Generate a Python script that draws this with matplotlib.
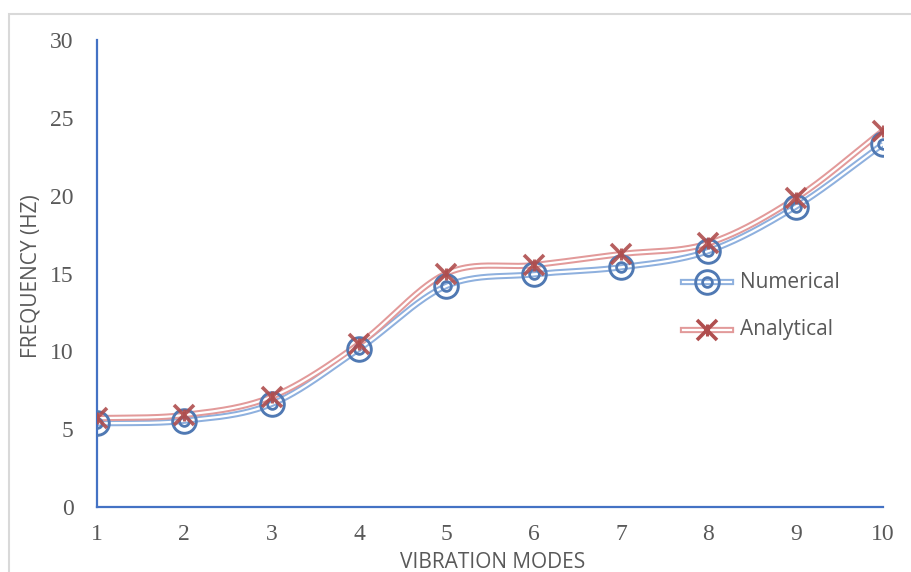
import numpy as np
import matplotlib
matplotlib.use("Agg")
import matplotlib.pyplot as plt
from matplotlib.lines import Line2D
from matplotlib.patches import Rectangle

modes = [1, 2, 3, 4, 5, 6, 7, 8, 9, 10]
numerical = [5.37, 5.54, 6.62, 10.15, 14.2, 14.95, 15.4, 16.44, 19.29, 23.31]
analytical = [5.70, 5.91, 7.08, 10.47, 15.0, 15.54, 16.25, 16.94, 19.83, 24.17]
yticks = [0, 5, 10, 15, 20, 25, 30]

def smooth(x, y, n=40):
    x = np.asarray(x, float); y = np.asarray(y, float)
    px = np.concatenate([[2*x[0]-x[1]], x, [2*x[-1]-x[-2]]])
    py = np.concatenate([[2*y[0]-y[1]], y, [2*y[-1]-y[-2]]])
    xs, ys = [], []
    for i in range(1, len(px)-2):
        t = np.linspace(0, 1, n, endpoint=False)
        for P, out in ((px, xs), (py, ys)):
            p0, p1, p2, p3 = P[i-1], P[i], P[i+1], P[i+2]
            out.extend(0.5*((2*p1) + (-p0+p2)*t + (2*p0-5*p1+4*p2-p3)*t**2 + (-p0+3*p1-3*p2+p3)*t**3))
    xs.append(x[-1]); ys.append(y[-1])
    return np.array(xs), np.array(ys)

fig = plt.figure(figsize=(9.12, 5.72), dpi=100)
fig.patches.append(Rectangle((9/912, -0.1), 1.2, (572-14)/572 + 0.1, transform=fig.transFigure,
                             fill=False, edgecolor='#D9D9D9', linewidth=1.5))
ax = fig.add_axes([97/912, (572-507)/572, (883-97)/912, (507-40)/572])

blue_line = '#8EB0DE'
blue_mk = '#5079B3'
red_line = '#E29A9A'
red_mk = '#B04E4E'

for y, lc in ((numerical, blue_line), (analytical, red_line)):
    sx, sy = smooth(modes, y)
    ax.plot(sx, sy, color=lc, lw=4.5, solid_capstyle='butt', zorder=2)
    ax.plot(sx, sy, color='white', lw=1.6, solid_capstyle='butt', zorder=2.1)

ax.plot(modes, numerical, ls='none', marker='o', ms=17, mfc='none', mec=blue_mk, mew=2.1, zorder=3)
ax.plot(modes, numerical, ls='none', marker='o', ms=7, mfc='none', mec=blue_mk, mew=2.0, zorder=3.1)
ax.plot(modes, analytical, ls='none', marker='x', ms=15, mec=red_mk, mew=2.6, alpha=0.9, zorder=4)
ax.plot(modes, analytical, ls='none', marker='|', ms=9, mec=red_mk, mew=2.2, alpha=0.9, zorder=4)

ax.set_xlim(1, 10)
ax.set_ylim(0, 30)
ax.set_xticks(modes)
ax.set_yticks(yticks)
for s in ('top', 'right'):
    ax.spines[s].set_visible(False)
for s in ('left', 'bottom'):
    ax.spines[s].set_color('#4472C4')
    ax.spines[s].set_linewidth(1.6)
ax.tick_params(length=0, labelsize=17, labelcolor='#595959', pad=12,
               labelfontfamily='Liberation Serif')
ax.tick_params(axis='y', pad=17)

fig.text(493/912, 1 - 562/572, 'VIBRATION MODES', ha='center', va='center',
         fontsize=15, family='Open Sans', color='#595959')
fig.text(31/912, 1 - 276/572, 'FREQUENCY (HZ)', ha='center', va='center', rotation=90,
         fontsize=15, family='Open Sans', color='#595959')

yl = [1 - 282/572, 1 - 330/572]
for i, (lc, name) in enumerate(((blue_line, 'Numerical'), (red_line, 'Analytical'))):
    yy = yl[i]
    fig.add_artist(Line2D([683/912, 731/912], [yy, yy], color=lc, lw=4.5, transform=fig.transFigure))
    fig.add_artist(Line2D([683/912, 731/912], [yy, yy], color='white', lw=1.6, transform=fig.transFigure))
    if i == 0:
        fig.add_artist(Line2D([707/912], [yy], marker='o', ms=17, mfc='none', mec=blue_mk, mew=2.1, transform=fig.transFigure))
        fig.add_artist(Line2D([707/912], [yy], marker='o', ms=7, mfc='none', mec=blue_mk, mew=2.0, transform=fig.transFigure))
    else:
        fig.add_artist(Line2D([707/912], [yy], marker='x', ms=15, mec=red_mk, mew=2.6, transform=fig.transFigure))
        fig.add_artist(Line2D([707/912], [yy], marker='|', ms=9, mec=red_mk, mew=2.2, transform=fig.transFigure))
    fig.text(740/912, yy, name, ha='left', va='center', fontsize=15, family='Open Sans', color='#595959')

fig.savefig('out.png', dpi=100)
